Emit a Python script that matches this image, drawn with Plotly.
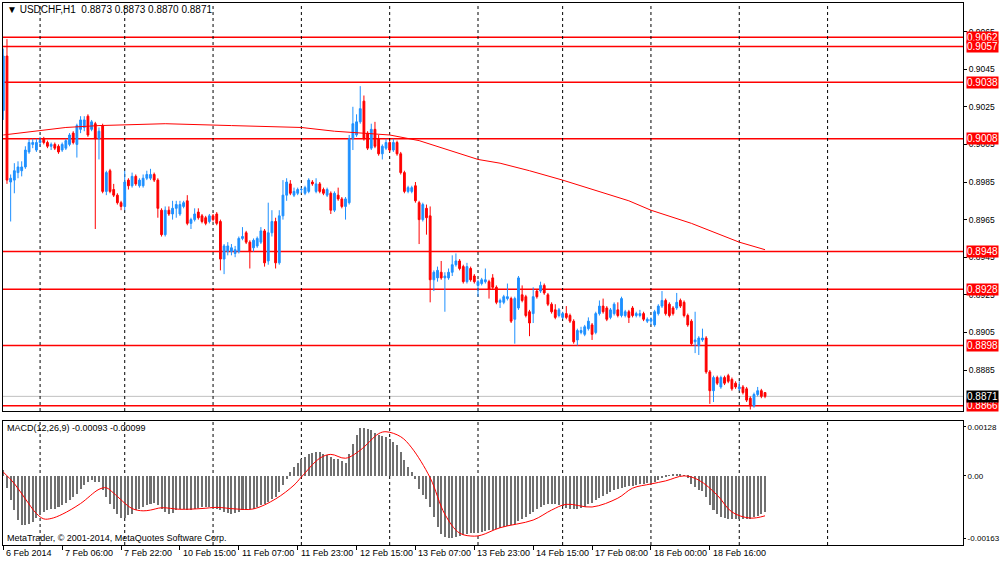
import plotly.graph_objects as go

# ---------------- data ----------------
bar_index = list(range(208))

opens = [0.9023,0.9052,0.8985,0.8986,0.8990,0.8991,0.8993,0.9001,0.9005,0.9002,
0.9006,0.9008,0.9006,0.9004,0.9005,0.9004,0.9002,0.9003,0.9005,0.9011,
0.9005,0.9013,0.9014,0.9020,0.9013,0.9016,0.9008,0.9015,0.8980,0.8991,
0.8981,0.8978,0.8974,0.8972,0.8986,0.8983,0.8988,0.8983,0.8983,0.8987,
0.8987,0.8989,0.8986,0.8970,0.8957,0.8970,0.8968,0.8971,0.8968,0.8972,
0.8975,0.8963,0.8965,0.8969,0.8967,0.8966,0.8964,0.8967,0.8968,0.8964,
0.8944,0.8948,0.8948,0.8947,0.8948,0.8955,0.8958,0.8953,0.8950,0.8951,
0.8953,0.8959,0.8943,0.8958,0.8964,0.8942,0.8967,0.8978,0.8984,0.8978,
0.8979,0.8981,0.8979,0.8980,0.8985,0.8980,0.8984,0.8981,0.8978,0.8979,
0.8970,0.8978,0.8976,0.8972,0.8974,0.9008,0.9010,0.9017,0.9028,0.9011,
0.9003,0.9013,0.9008,0.9000,0.9003,0.9006,0.9002,0.9006,0.9000,0.8990,
0.8980,0.8980,0.8983,0.8974,0.8965,0.8971,0.8967,0.8933,0.8934,0.8937,
0.8934,0.8934,0.8937,0.8941,0.8943,0.8940,0.8932,0.8939,0.8935,0.8930,
0.8931,0.8932,0.8932,0.8934,0.8929,0.8921,0.8921,0.8923,0.8923,0.8912,
0.8918,0.8925,0.8924,0.8916,0.8915,0.8927,0.8927,0.8930,0.8925,0.8920,
0.8917,0.8914,0.8913,0.8915,0.8914,0.8911,0.8901,0.8905,0.8904,0.8907,
0.8909,0.8905,0.8915,0.8919,0.8918,0.8913,0.8915,0.8917,0.8914,0.8914,
0.8916,0.8918,0.8914,0.8914,0.8915,0.8911,0.8911,0.8909,0.8915,0.8919,
0.8922,0.8920,0.8918,0.8918,0.8922,0.8921,0.8914,0.8911,0.8900,0.8898,
0.8901,0.8902,0.8884,0.8874,0.8881,0.8876,0.8881,0.8882,0.8880,0.8878,
0.8875,0.8876,0.8875,0.8870,0.8866,0.8872,0.8874,0.8873]

highs = [0.9056,0.9061,0.8989,0.8995,0.8996,0.8996,0.9004,0.9008,0.9008,0.9008,
0.9009,0.9009,0.9007,0.9006,0.9006,0.9005,0.9006,0.9008,0.9011,0.9012,
0.9016,0.9020,0.9020,0.9021,0.9018,0.9017,0.9014,0.9016,0.8991,0.8992,
0.8984,0.8979,0.8975,0.8991,0.8987,0.8990,0.8989,0.8987,0.8989,0.8991,
0.8992,0.8990,0.8987,0.8971,0.8972,0.8972,0.8975,0.8975,0.8975,0.8975,
0.8978,0.8966,0.8971,0.8971,0.8968,0.8967,0.8968,0.8968,0.8969,0.8965,
0.8952,0.8953,0.8952,0.8951,0.8956,0.8961,0.8959,0.8954,0.8955,0.8956,
0.8961,0.8960,0.8974,0.8970,0.8966,0.8970,0.8986,0.8987,0.8986,0.8982,
0.8982,0.8982,0.8983,0.8987,0.8986,0.8987,0.8985,0.8982,0.8982,0.8980,
0.8980,0.8982,0.8977,0.8977,0.9010,0.9025,0.9021,0.9036,0.9031,0.9012,
0.9016,0.9017,0.9010,0.9005,0.9008,0.9007,0.9008,0.9007,0.9001,0.8991,
0.8983,0.8983,0.8985,0.8975,0.8974,0.8973,0.8972,0.8938,0.8940,0.8943,
0.8937,0.8939,0.8946,0.8947,0.8944,0.8941,0.8942,0.8940,0.8936,0.8933,
0.8934,0.8939,0.8933,0.8936,0.8930,0.8923,0.8925,0.8931,0.8924,0.8924,
0.8935,0.8930,0.8925,0.8917,0.8929,0.8928,0.8932,0.8931,0.8926,0.8921,
0.8920,0.8918,0.8916,0.8919,0.8915,0.8912,0.8907,0.8908,0.8909,0.8913,
0.8910,0.8916,0.8922,0.8923,0.8919,0.8918,0.8921,0.8921,0.8924,0.8917,
0.8917,0.8919,0.8916,0.8917,0.8916,0.8913,0.8913,0.8917,0.8920,0.8927,
0.8923,0.8921,0.8919,0.8926,0.8923,0.8922,0.8915,0.8912,0.8916,0.8903,
0.8907,0.8903,0.8885,0.8882,0.8882,0.8882,0.8882,0.8883,0.8881,0.8879,
0.8879,0.8877,0.8876,0.8871,0.8873,0.8876,0.8875,0.8873]

lows = [0.9018,0.8984,0.8964,0.8979,0.8987,0.8988,0.8992,0.9000,0.9003,0.9001,
0.9004,0.9005,0.9003,0.9002,0.9002,0.9000,0.9001,0.9002,0.9004,0.9005,
0.8998,0.9011,0.9012,0.9009,0.9012,0.8960,0.8997,0.8979,0.8978,0.8979,
0.8977,0.8973,0.8970,0.8970,0.8981,0.8982,0.8983,0.8982,0.8982,0.8986,
0.8986,0.8985,0.8966,0.8956,0.8956,0.8967,0.8965,0.8966,0.8967,0.8971,
0.8962,0.8960,0.8964,0.8965,0.8963,0.8962,0.8963,0.8964,0.8962,0.8938,
0.8936,0.8946,0.8946,0.8945,0.8947,0.8954,0.8952,0.8939,0.8948,0.8950,
0.8952,0.8940,0.8941,0.8956,0.8939,0.8941,0.8965,0.8975,0.8978,0.8977,
0.8978,0.8979,0.8978,0.8979,0.8983,0.8979,0.8979,0.8978,0.8977,0.8968,
0.8969,0.8975,0.8971,0.8965,0.8973,0.9002,0.9009,0.9016,0.9007,0.9002,
0.9002,0.9003,0.8999,0.8997,0.9002,0.9001,0.9001,0.8999,0.8989,0.8979,
0.8979,0.8979,0.8974,0.8952,0.8964,0.8957,0.8921,0.8927,0.8932,0.8933,
0.8916,0.8933,0.8935,0.8940,0.8938,0.8931,0.8931,0.8932,0.8931,0.8924,
0.8930,0.8931,0.8923,0.8928,0.8920,0.8918,0.8920,0.8922,0.8910,0.8899,
0.8917,0.8921,0.8913,0.8903,0.8910,0.8923,0.8926,0.8925,0.8919,0.8915,
0.8912,0.8913,0.8912,0.8912,0.8910,0.8899,0.8898,0.8904,0.8903,0.8906,
0.8901,0.8904,0.8914,0.8915,0.8911,0.8912,0.8914,0.8913,0.8913,0.8913,
0.8910,0.8913,0.8913,0.8913,0.8911,0.8910,0.8909,0.8908,0.8914,0.8918,
0.8914,0.8913,0.8914,0.8917,0.8918,0.8913,0.8908,0.8898,0.8894,0.8893,
0.8900,0.8883,0.8867,0.8868,0.8877,0.8875,0.8877,0.8878,0.8874,0.8875,
0.8874,0.8872,0.8868,0.8864,0.8865,0.8871,0.8870,0.8870]

closes = [0.9052,0.8986,0.8987,0.8991,0.8993,0.8993,0.9002,0.9006,0.9006,0.9006,
0.9007,0.9006,0.9004,0.9005,0.9003,0.9001,0.9005,0.9007,0.9010,0.9006,
0.9015,0.9018,0.9018,0.9010,0.9017,0.9008,0.9012,0.8980,0.8990,0.8980,
0.8978,0.8974,0.8972,0.8985,0.8983,0.8988,0.8984,0.8986,0.8987,0.8989,
0.8989,0.8986,0.8971,0.8957,0.8970,0.8968,0.8971,0.8973,0.8973,0.8974,
0.8963,0.8965,0.8968,0.8966,0.8964,0.8963,0.8967,0.8965,0.8963,0.8944,
0.8951,0.8951,0.8950,0.8949,0.8955,0.8956,0.8953,0.8948,0.8954,0.8955,
0.8959,0.8942,0.8958,0.8964,0.8942,0.8967,0.8978,0.8985,0.8979,0.8980,
0.8981,0.8981,0.8982,0.8986,0.8984,0.8984,0.8980,0.8979,0.8981,0.8970,
0.8979,0.8976,0.8972,0.8976,0.9008,0.9016,0.9017,0.9024,0.9008,0.9003,
0.9013,0.9004,0.9000,0.9004,0.9006,0.9002,0.9006,0.9000,0.8990,0.8980,
0.8982,0.8982,0.8975,0.8965,0.8973,0.8966,0.8933,0.8937,0.8938,0.8934,
0.8935,0.8937,0.8941,0.8943,0.8939,0.8932,0.8940,0.8933,0.8932,0.8932,
0.8933,0.8933,0.8928,0.8929,0.8921,0.8922,0.8924,0.8924,0.8911,0.8923,
0.8934,0.8922,0.8914,0.8910,0.8924,0.8924,0.8930,0.8926,0.8920,0.8916,
0.8913,0.8917,0.8915,0.8913,0.8911,0.8900,0.8906,0.8906,0.8908,0.8911,
0.8904,0.8915,0.8919,0.8916,0.8912,0.8917,0.8920,0.8914,0.8923,0.8916,
0.8913,0.8914,0.8915,0.8915,0.8912,0.8912,0.8912,0.8916,0.8919,0.8922,
0.8915,0.8914,0.8915,0.8921,0.8919,0.8914,0.8909,0.8899,0.8901,0.8902,
0.8902,0.8884,0.8874,0.8881,0.8878,0.8881,0.8878,0.8879,0.8875,0.8876,
0.8876,0.8873,0.8869,0.8866,0.8872,0.8874,0.8871,0.8871]

# moving average line, read at sample bars
ma_idx = [0, 8, 17, 26, 44, 62, 81, 90, 99, 105, 113, 121, 129, 135, 143, 152,
          162, 170, 176, 187, 200, 207]
ma_val = [0.9010, 0.9012, 0.9014, 0.9015, 0.9016, 0.9015, 0.9014, 0.9012, 0.9011,
          0.9010, 0.9007, 0.9002, 0.8997, 0.8995, 0.8991, 0.8986, 0.8980, 0.8975,
          0.8970, 0.8963, 0.8953, 0.8949]

# MACD main (histogram) per bar
macd_main = [0.00015,-0.00032,-0.00063,-0.00089,-0.00115,-0.00128,-0.00128,-0.00124,-0.00120,-0.00110,
-0.00102,-0.00094,-0.00089,-0.00087,-0.00085,-0.00081,-0.00076,-0.00070,-0.00063,-0.00056,
-0.00046,-0.00033,-0.00024,-0.00016,-0.00011,-0.00016,-0.00016,-0.00037,-0.00055,-0.00072,
-0.00085,-0.00098,-0.00110,-0.00110,-0.00102,-0.00098,-0.00089,-0.00085,-0.00081,-0.00076,
-0.00072,-0.00070,-0.00076,-0.00085,-0.00094,-0.00098,-0.00096,-0.00089,-0.00087,-0.00085,
-0.00089,-0.00089,-0.00086,-0.00083,-0.00082,-0.00082,-0.00081,-0.00081,-0.00085,-0.00089,
-0.00094,-0.00096,-0.00098,-0.00096,-0.00094,-0.00089,-0.00087,-0.00087,-0.00085,-0.00081,
-0.00076,-0.00072,-0.00068,-0.00061,-0.00056,-0.00042,-0.00024,-0.00007,0.00010,0.00023,
0.00034,0.00043,0.00050,0.00056,0.00060,0.00062,0.00061,0.00058,0.00054,0.00048,
0.00045,0.00043,0.00039,0.00034,0.00058,0.00084,0.00106,0.00126,0.00126,0.00123,
0.00119,0.00112,0.00106,0.00103,0.00101,0.00097,0.00089,0.00080,0.00063,0.00041,
0.00023,0.00010,-0.00007,-0.00033,-0.00050,-0.00059,-0.00081,-0.00107,-0.00133,-0.00152,
-0.00159,-0.00163,-0.00163,-0.00160,-0.00157,-0.00154,-0.00152,-0.00150,-0.00150,-0.00148,
-0.00146,-0.00144,-0.00141,-0.00140,-0.00138,-0.00135,-0.00132,-0.00130,-0.00128,-0.00125,
-0.00118,-0.00112,-0.00106,-0.00100,-0.00093,-0.00086,-0.00080,-0.00075,-0.00072,-0.00072,
-0.00073,-0.00075,-0.00078,-0.00083,-0.00085,-0.00087,-0.00086,-0.00084,-0.00080,-0.00074,
-0.00070,-0.00064,-0.00058,-0.00052,-0.00047,-0.00042,-0.00038,-0.00035,-0.00031,-0.00029,
-0.00027,-0.00025,-0.00024,-0.00022,-0.00021,-0.00019,-0.00018,-0.00015,-0.00011,-0.00006,
-0.00003,0.00002,0.00004,0.00006,0.00005,0.00001,-0.00005,-0.00020,-0.00030,-0.00036,
-0.00040,-0.00055,-0.00075,-0.00090,-0.00100,-0.00106,-0.00109,-0.00111,-0.00113,-0.00113,
-0.00112,-0.00112,-0.00111,-0.00111,-0.00108,-0.00104,-0.00099,-0.00093]

# MACD signal line, read at sample bars
sig_idx = [0, 3, 6, 9, 11, 13, 16, 21, 26, 28, 30, 35, 38, 40, 43, 48, 54, 58, 63, 68,
           74, 79, 81, 86, 89, 93, 97, 102, 104, 108, 111, 116, 120, 124, 128, 130,
           135, 144, 149, 153, 160, 167, 171, 176, 180, 185, 189, 194, 198, 203, 207]
sig_val = [0.00010,-0.00020,-0.00060,-0.00098,-0.00112,-0.00111,-0.00100,-0.00072,-0.00035,-0.00031,
           -0.00045,-0.00085,-0.00091,-0.00089,-0.00083,-0.00087,-0.00085,-0.00082,-0.00086,-0.00086,
           -0.00060,-0.00024,-0.00003,0.00046,0.00056,0.00046,0.00067,0.00110,0.00115,0.00102,
           0.00073,-0.00005,-0.00100,-0.00149,-0.00157,-0.00154,
           -0.00135,-0.00115,-0.00089,-0.00074,-0.00081,-0.00058,-0.00032,-0.00021,-0.00013,0.00000,
           -0.00011,-0.00050,-0.00094,-0.00110,-0.00104]

# horizontal levels and labels
level_prices = [0.9062, 0.9057, 0.9038, 0.9008, 0.8948, 0.8928, 0.8898, 0.8866]
last_price = 0.8871
price_ticks = [0.9065, 0.9045, 0.9025, 0.9005, 0.8985, 0.8965, 0.8945, 0.8925, 0.8905, 0.8885]
macd_ticks = [0.00128, 0.0, -0.00163]
macd_tick_text = ["0.00128", "0.00", "-0.00163"]

# day separators (bar index of first bar of each day)
separator_idx = [10, 33, 57, 81, 105, 129, 152, 176, 200, 224]

time_tick_idx = [0, 16, 32, 48, 64, 80, 96, 112, 128, 144, 160, 176, 192]
time_tick_text = ["6 Feb 2014", "7 Feb 06:00", "7 Feb 22:00", "10 Feb 15:00", "11 Feb 07:00",
                  "11 Feb 23:00", "12 Feb 15:00", "13 Feb 07:00", "13 Feb 23:00",
                  "14 Feb 15:00", "17 Feb 08:00", "18 Feb 00:00", "18 Feb 16:00"]

# ---------------- figure ----------------
FONT = "Liberation Sans"
BLUE = "#1E90FF"
RED = "#FF0000"

fig = go.Figure()

fig.add_trace(go.Candlestick(
    x=bar_index, open=opens, high=highs, low=lows, close=closes,
    increasing=dict(line=dict(color=BLUE, width=1), fillcolor=BLUE),
    decreasing=dict(line=dict(color=RED, width=1), fillcolor=RED),
    whiskerwidth=0, xaxis="x", yaxis="y", hoverinfo="skip", showlegend=False))

fig.add_trace(go.Scatter(x=ma_idx, y=ma_val, mode="lines",
                         line=dict(color=RED, width=1), xaxis="x", yaxis="y",
                         hoverinfo="skip", showlegend=False))

fig.add_trace(go.Bar(x=bar_index, y=macd_main, width=0.55,
                     marker=dict(color="#707070", line=dict(width=0)),
                     xaxis="x2", yaxis="y2", hoverinfo="skip", showlegend=False))

fig.add_trace(go.Scatter(x=sig_idx, y=sig_val, mode="lines", line_shape="spline",
                         line=dict(color=RED, width=1), xaxis="x2", yaxis="y2",
                         hoverinfo="skip", showlegend=False))

shapes = []
for p in level_prices:
    shapes.append(dict(type="line", xref="x domain", yref="y", x0=0, x1=1, y0=p, y1=p,
                       line=dict(color=RED, width=1.5), layer="below"))
shapes.append(dict(type="line", xref="x domain", yref="y", x0=0, x1=1,
                   y0=last_price, y1=last_price, line=dict(color="#C0C0C0", width=1),
                   layer="below"))
for s in separator_idx:
    for yr in ("y domain", "y2 domain"):
        shapes.append(dict(type="line", xref="x", yref=yr, x0=s, x1=s, y0=0, y1=1,
                           line=dict(color="black", width=1, dash="3px,3px"),
                           layer="below"))

annotations = []
for p in level_prices:
    annotations.append(dict(xref="paper", yref="y", x=1.003, y=p, xanchor="left",
                            yanchor="middle", text=f"{p:.4f}", showarrow=False,
                            bgcolor=RED, borderpad=0,
                            font=dict(family=FONT, size=10, color="white")))
annotations.append(dict(xref="paper", yref="y", x=1.003, y=last_price, xanchor="left",
                        yanchor="middle", text=f"{last_price:.4f}", showarrow=False,
                        bgcolor="black", borderpad=0,
                        font=dict(family=FONT, size=10, color="white")))
for i, t in zip(time_tick_idx, time_tick_text):
    annotations.append(dict(xref="x2", yref="paper", x=i, y=-0.0155, xanchor="left",
                            yanchor="middle", xshift=1, text=t, showarrow=False,
                            font=dict(family=FONT, size=9, color="black")))
annotations.append(dict(xref="paper", yref="paper", x=0.002, y=0.988, xanchor="left",
                        yanchor="middle", showarrow=False,
                        text="▼ USDCHF,H1  0.8873 0.8873 0.8870 0.8871",
                        font=dict(family=FONT, size=10, color="black")))
annotations.append(dict(xref="paper", yref="paper", x=0.002, y=0.215, xanchor="left",
                        yanchor="middle", showarrow=False,
                        text="MACD(12,26,9) -0.00093 -0.00099",
                        font=dict(family=FONT, size=9, color="black")))
annotations.append(dict(xref="paper", yref="paper", x=0.002, y=0.013, xanchor="left",
                        yanchor="middle", showarrow=False,
                        text="MetaTrader, © 2001-2014, MetaQuotes Software Corp.",
                        font=dict(family=FONT, size=9, color="black")))

xr = [-0.08, 260.8]
axis_common = dict(showgrid=False, zeroline=False, showline=True, linecolor="black",
                   linewidth=1, mirror=True, automargin=False)

fig.update_layout(
    width=1000, height=562,
    margin=dict(l=3, r=37, t=3, b=17, autoexpand=False),
    paper_bgcolor="white", plot_bgcolor="white",
    showlegend=False, hovermode=False,
    xaxis=dict(domain=[0, 1], range=xr, anchor="y", showticklabels=False, ticks="",
               rangeslider=dict(visible=False), **axis_common),
    yaxis=dict(domain=[0.2472, 1], range=[0.88632, 0.90802], side="right", anchor="x",
               tickvals=price_ticks, ticktext=[f"{v:.4f}" for v in price_ticks],
               ticks="outside", ticklen=3, tickcolor="black",
               tickfont=dict(family=FONT, size=8.5, color="black"), **axis_common),
    xaxis2=dict(domain=[0, 1], range=xr, anchor="y2", matches="x",
                tickvals=time_tick_idx, showticklabels=False, ticks="outside",
                ticklen=4, tickcolor="black", **axis_common),
    yaxis2=dict(domain=[0, 0.2288], range=[-0.00180, 0.00143], side="right", anchor="x2",
                tickvals=macd_ticks, ticktext=macd_tick_text, ticks="outside", ticklen=2,
                tickcolor="black", tickfont=dict(family=FONT, size=8, color="black"),
                **axis_common),
    bargap=0,
    shapes=shapes,
    annotations=annotations,
)

fig.write_html(
    "out.html",
    config={"displayModeBar": False},
    post_script="document.body.style.margin='0';document.body.style.padding='0';"
                "document.documentElement.style.overflow='hidden';",
)
